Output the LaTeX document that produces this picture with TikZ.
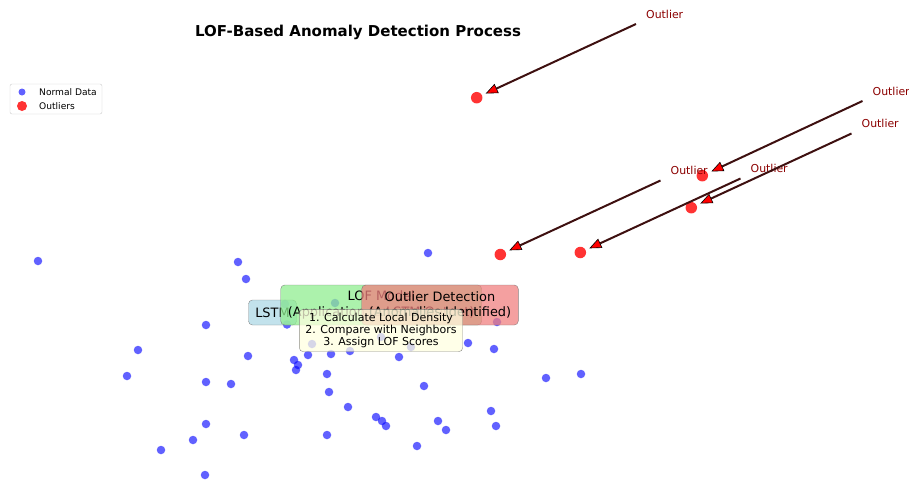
\documentclass[tikz,border=0pt]{standalone}
\usepackage{fontspec}
\setmainfont{DejaVu Sans}
\usetikzlibrary{arrows.meta,positioning}
\definecolor{normblue}{RGB}{0,0,255}
\definecolor{outred}{RGB}{255,0,0}
\definecolor{lblred}{RGB}{139,0,0}
\definecolor{arrline}{RGB}{62,16,16}
\definecolor{lstmblue}{RGB}{173,216,230}
\definecolor{lofgreen}{RGB}{144,238,144}
\definecolor{detred}{RGB}{240,128,128}
\definecolor{stepyellow}{RGB}{255,255,224}
\tikzset{
  normpt/.style={circle,fill=normblue,fill opacity=0.62,inner sep=0pt,minimum size=8.5pt},
  outpt/.style={circle,fill=outred,fill opacity=0.8,inner sep=0pt,minimum size=11.5pt,outer sep=4.2pt},
  outlbl/.style={text=lblred,font=\fontsize{10.9}{13}\selectfont,inner sep=0pt,anchor=west},
  outarrow/.style={arrline,line width=2pt,
                   -{Triangle[length=12pt,width=10pt,line width=0.6pt,color=black,fill=outred]}},
  procbox/.style={draw=black!60,rounded corners=4pt,fill opacity=0.75,draw opacity=0.75,text opacity=1,
                  inner sep=1pt,align=center,font=\fontsize{12.9}{15.2}\selectfont},
  legtxt/.style={font=\fontsize{9.1}{11}\selectfont,inner sep=0pt,anchor=west},
}

\begin{document}
\begin{tikzpicture}[x=1pt,y=-1pt]
  \useasboundingbox (0,0) rectangle (909,479);
  % title
  \node[font=\bfseries\fontsize{15}{18}\selectfont] (title) at (358,32) {LOF-Based Anomaly Detection Process};
  % legend
  \node[draw=black!20,fill=white,rounded corners=2pt,minimum width=92pt,minimum height=30pt,inner sep=0pt]
    (legend) at (56,99) {};
  \node[normpt,minimum size=7pt] (legn) at (22,92) {};
  \node[outpt,minimum size=10pt,outer sep=0pt] (lego) at (22,106) {};
  \node[legtxt] (legnt) at (39,92) {Normal Data};
  \node[legtxt] (legot) at (39,106) {Outliers};
  % normal data
  \foreach \x/\y [count=\k] in {38/261,238/262,246/279,206/325,138/350,248/356,294/360,298/365,296/370,
      127/376,206/382,231/384,206/424,244/435,193/440,161/450,205/475,428/253,287/324.5,308/355,
      331/354,350/351,399/357,312/344,381/337,411/347,468/343,494/349,497/322,335/303,285/304,
      327/374,329/392,348/407,376/417,382/421,386/426,327/435,424/386,438/421,446/430,417/446,
      491/411,496/426,546/378,581/374}
    \node[normpt] (n\k) at (\x,\y) {};
  % outliers
  \node[outpt] (ptA) at (476.7,97.7) {};
  \node[outpt] (ptB) at (702.3,175.7) {};
  \node[outpt] (ptC) at (691.3,207.7) {};
  \node[outpt] (ptD) at (500.3,254.5) {};
  \node[outpt] (ptE) at (580.3,252.5) {};
  % process boxes
  \node[procbox,fill=lstmblue,minimum width=48pt,minimum height=25pt] (lstm) at (272.5,312.5) {LSTM};
  \node[procbox,fill=lofgreen,minimum width=201pt,minimum height=40pt] (lof) at (381.2,305)
    {LOF Model\\(Application to LSTM Output)};
  \node[procbox,fill=detred,minimum width=156.6pt,minimum height=40pt] (det) at (440,305)
    {Outlier Detection\\(Anomalies Identified)};
  \node[procbox,fill=stepyellow,minimum width=163.4pt,minimum height=42.4pt,
        font=\fontsize{11}{12.2}\selectfont] (steps) at (381,330.5)
    {1. Calculate Local Density\\2. Compare with Neighbors\\3. Assign LOF Scores};
  % annotations
  \node[outlbl] (lblA) at (646,14) {Outlier};
  \node[outlbl] (lblB) at (872.5,91) {Outlier};
  \node[outlbl] (lblC) at (861.5,123.5) {Outlier};
  \node[outlbl] (lblD) at (670.5,170.5) {Outlier};
  \node[outlbl] (lblE) at (750.5,168.5) {Outlier};
  \foreach \s in {A,B,C,D,E}
    \draw[outarrow] ([xshift=-10pt,yshift=-10pt]lbl\s.west) -- (pt\s);
\end{tikzpicture}
\end{document}
